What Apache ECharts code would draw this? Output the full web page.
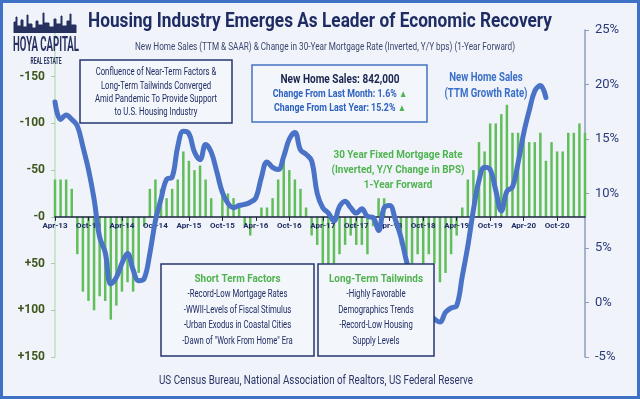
<!DOCTYPE html>
<html>
<head>
<meta charset="utf-8">
<script src="https://cdn.jsdelivr.net/npm/echarts@6/dist/echarts.min.js"></script>
<style>
  html, body { margin: 0; padding: 0; background: #f0f4fa; }
  #chart { width: 640px; height: 399px; }
</style>
</head>
<body>
<div id="chart"></div>
<script>
// monthly categories Apr-13 .. Mar-21
const months = [
  'Apr-13','May-13','Jun-13','Jul-13','Aug-13','Sep-13','Oct-13','Nov-13','Dec-13','Jan-14','Feb-14','Mar-14',
  'Apr-14','May-14','Jun-14','Jul-14','Aug-14','Sep-14','Oct-14','Nov-14','Dec-14','Jan-15','Feb-15','Mar-15',
  'Apr-15','May-15','Jun-15','Jul-15','Aug-15','Sep-15','Oct-15','Nov-15','Dec-15','Jan-16','Feb-16','Mar-16',
  'Apr-16','May-16','Jun-16','Jul-16','Aug-16','Sep-16','Oct-16','Nov-16','Dec-16','Jan-17','Feb-17','Mar-17',
  'Apr-17','May-17','Jun-17','Jul-17','Aug-17','Sep-17','Oct-17','Nov-17','Dec-17','Jan-18','Feb-18','Mar-18',
  'Apr-18','May-18','Jun-18','Jul-18','Aug-18','Sep-18','Oct-18','Nov-18','Dec-18','Jan-19','Feb-19','Mar-19',
  'Apr-19','May-19','Jun-19','Jul-19','Aug-19','Sep-19','Oct-19','Nov-19','Dec-19','Jan-20','Feb-20','Mar-20',
  'Apr-20','May-20','Jun-20','Jul-20','Aug-20','Sep-20','Oct-20','Nov-20','Dec-20','Jan-21','Feb-21','Mar-21'
]

// 30Y mortgage rate, Y/Y change in bps, 1-year forward (axis is inverted: negative plots upward)
const mortgageBps = [
  -40, -40, -40, -30, 40, 80, 90, 100, 85, 90, 110, 95,
  80, 70, 80, 60, 10, -30, -40, -30, -20, -30, -40, -70,
  -60, -50, -55, -40, -20, 0, -30, -25, -20, -10, 10, 20,
  0, -10, -10, -20, -40, -70, -50, -40, -30, -10, 20, 30,
  50, 60, 50, 40, 30, 20, 30, 30, 40, 10, -20, -20,
  0, 10, 30, 40, 50, 40, 50, 40, 50, 70, 60, 40,
  20, -10, -40, -50, -80, -70, -100, -100, -110, -120, -90, -90,
  -90, -80, -80, -90, -60, -80, -70, -70, -90, -90, -100, -90
]

// new home sales, TTM growth rate (%)
const salesGrowth = [
  18.4, 16.8, 17.2, 16.8, 16.2, 14.3, 12.2, 9.5, 6.0, 4.6, 1.7, 2.3,
  3.6, 4.5, 3.0, 2.0, 2.2, 4.5, 7.5, 9.5, 11.3, 11.5, 14.3, 15.7,
  15.5, 13.8, 13.1, 14.5, 13.8, 12.0, 10.1, 9.1, 8.7, 8.9, 9.0, 9.2,
  9.6, 11.5, 12.9, 12.4, 12.2, 13.4, 15.0, 15.6, 14.0, 13.6, 13.0, 10.0,
  8.7, 8.2, 7.5, 8.8, 9.3, 8.7, 8.2, 8.6, 7.9, 7.8, 6.6, 8.7,
  8.9, 7.6, 6.0, 3.8, 2.0, 0.6, -0.4, -1.0, -1.5, -1.8, -0.9, -0.5,
  -0.3, 2.4, 5.2, 8.5, 11.2, 12.4, 12.2, 10.3, 8.4, 10.2, 10.6, 12.8,
  15.5, 17.6, 19.4, 19.9, 18.8
]

const leftTicks = [-150, -100, -50, 0, 50, 100, 150]

const FONT = "Roboto, 'Noto Sans', sans-serif"
const NAVY = '#1f2c63'
const GREEN = '#4fb34f'

// text is squeezed horizontally to look like the condensed face of the original
const measureCtx = document.createElement('canvas').getContext('2d')
function measure (text, size, bold) {
  measureCtx.font = (bold ? 'bold ' : '') + size + 'px ' + FONT
  return measureCtx.measureText(text.replace(/\{\w+\|([^}]*)\}/g, '$1')).width
}
function squeeze (text, size, bold, width) {
  return width / measure(text, size, bold)
}
function label (o) {
  const s = o.scale || squeeze(o.text, o.size, o.bold, o.width)
  return {
    type: 'text', z: 100, x: o.x, y: o.y, scaleX: s,
    style: {
      x: 0, y: 0, text: o.text, align: 'center', verticalAlign: 'middle',
      fontFamily: FONT, fontSize: o.size, fontWeight: o.bold ? 'bold' : 'normal',
      fill: o.color || NAVY, rich: o.rich
    }
  }
}
function box (x, y, w, h, stroke) {
  return {
    type: 'rect', z: 99, shape: { x: x, y: y, width: w, height: h },
    style: { fill: '#f3f6fb', stroke: stroke, lineWidth: 1.5 }
  }
}

const bodyScale = squeeze('Amid Pandemic To Provide Support', 11, false, 122)
const greenScale = squeeze('(Inverted, Y/Y Change in BPS)', 11.5, true, 133)
const headScale = squeeze('Long-Term Tailwinds', 11.5, true, 94)
const blueScale = squeeze('(TTM Growth Rate)', 12.5, true, 83)
const statScale = squeeze('Change From Last Month: 1.6% ▲', 10.5, true, 135)
const tri = { g: { fill: GREEN, fontSize: 10 } }

const chart = echarts.init(document.getElementById('chart'))

// skyline of the logo
const skyline = [[14, 33], [14, 22], [16, 22], [16, 17], [17, 17], [17, 26], [21, 26], [21, 20], [23, 20], [23, 27],
  [27, 27], [27, 15], [28, 15], [28, 24], [32, 24], [32, 28], [36, 28], [36, 21], [38, 21], [38, 25], [43, 25],
  [43, 13], [44, 13], [44, 23], [49, 23], [49, 27], [54, 27], [54, 19], [56, 19], [56, 24], [61, 24], [61, 16],
  [62, 16], [62, 26], [67, 26], [67, 21], [70, 21], [70, 14], [71, 14], [71, 25], [76, 25], [76, 33]]

const option = {
  backgroundColor: '#f0f4fa',
  animation: false,
  grid: { left: 55, right: 55, top: 30, bottom: 42 },
  xAxis: {
    type: 'category',
    data: months,
    boundaryGap: false,
    offset: -140.1,
    z: 2,
    axisLine: { onZero: false, lineStyle: { color: '#1b2240', width: 1.5 } },
    axisTick: { interval: 5, length: 4, lineStyle: { color: '#1b2240' } },
    axisLabel: {
      interval: 5, margin: 5, color: NAVY, fontWeight: 'bold', fontSize: 8, fontFamily: FONT
    },
    splitLine: { show: false }
  },
  yAxis: [
    {
      type: 'value',
      inverse: true,
      min: -200,
      max: 150,
      interval: 50,
      position: 'left',
      axisLine: { show: true, lineStyle: { color: '#bfe2bf', width: 1.5 } },
      axisTick: { show: true, length: 4, customValues: leftTicks, lineStyle: { color: '#a9cfa9' } },
      axisLabel: {
        customValues: leftTicks,
        margin: 10,
        color: '#3f561d',
        fontWeight: 'bold',
        fontSize: 12,
        fontFamily: FONT,
        formatter: function (v) {
          if (v < -150) return ''
          if (v === 0) return '-0'
          return v > 0 ? '+' + v : String(v)
        }
      },
      splitLine: { show: false }
    },
    {
      type: 'value',
      min: -5,
      max: 25,
      interval: 5,
      position: 'right',
      axisLine: { show: true, lineStyle: { color: '#8e9dc2', width: 1.5 } },
      axisTick: { show: true, length: 4, lineStyle: { color: '#8e9dc2' } },
      axisLabel: {
        margin: 10, color: '#2b3a78', fontSize: 13, fontFamily: FONT,
        formatter: '{value}%'
      },
      splitLine: { show: false }
    }
  ],
  series: [
    {
      name: '30 Year Fixed Mortgage Rate',
      type: 'bar',
      yAxisIndex: 0,
      data: mortgageBps,
      barWidth: 2.5,
      itemStyle: { color: '#62be5a' },
      z: 1
    },
    {
      name: 'New Home Sales',
      type: 'line',
      yAxisIndex: 1,
      data: salesGrowth,
      smooth: 0.4,
      showSymbol: false,
      lineStyle: { color: '#4a72c6', width: 5, cap: 'round', join: 'round' },
      z: 3
    }
  ],
  graphic: [
    // frame
    { type: 'rect', z: 200, silent: true, shape: { x: 1.5, y: 1.5, width: 637, height: 396 },
      style: { fill: 'none', stroke: '#3f71c6', lineWidth: 3 } },
    // logo
    { type: 'polyline', z: 100, shape: { points: skyline }, style: { stroke: '#27315f', fill: '#27315f', lineWidth: 1 } },
    label({ x: 46, y: 46, text: 'HOYA CAPITAL', size: 20, bold: true, width: 66, color: '#27315f' }),
    label({ x: 46, y: 62, text: 'REAL ESTATE', size: 9.5, bold: true, width: 31, color: '#27315f' }),
    // titles
    label({ x: 320, y: 22, text: 'Housing Industry Emerges As Leader of Economic Recovery', size: 20, bold: true, width: 464 }),
    label({ x: 325, y: 47, text: 'New Home Sales (TTM & SAAR) & Change in 30-Year Mortgage Rate (Inverted, Y/Y bps) (1-Year Forward)',
      size: 10.5, width: 380, color: '#3b466e' }),
    // top-left note
    box(80, 60, 152, 63, '#26356f'),
    label({ x: 156, y: 72, text: 'Confluence of Near-Term Factors &', size: 11, scale: bodyScale }),
    label({ x: 156, y: 86, text: 'Long-Term Tailwinds Converged', size: 11, scale: bodyScale }),
    label({ x: 156, y: 99, text: 'Amid Pandemic To Provide Support', size: 11, scale: bodyScale }),
    label({ x: 156, y: 112, text: 'to U.S. Housing Industry', size: 11, scale: bodyScale }),
    // stats box
    box(252, 65, 175, 57, '#4472c4'),
    label({ x: 340, y: 80, text: 'New Home Sales: 842,000', size: 12.5, bold: true, width: 119, color: '#1b2550' }),
    label({ x: 340, y: 94, text: 'Change From Last Month: 1.6% {g|▲}', size: 10.5, bold: true, scale: statScale, color: '#2f62bf', rich: tri }),
    label({ x: 340, y: 108, text: 'Change From Last Year: 15.2% {g|▲}', size: 10.5, bold: true, scale: statScale, color: '#2f62bf', rich: tri }),
    // series notes
    label({ x: 486, y: 78, text: 'New Home Sales', size: 12.5, bold: true, scale: blueScale, color: '#3a6fc8' }),
    label({ x: 486, y: 94, text: '(TTM Growth Rate)', size: 12.5, bold: true, scale: blueScale, color: '#3a6fc8' }),
    label({ x: 398, y: 155, text: '30 Year Fixed Mortgage Rate', size: 11.5, bold: true, scale: greenScale, color: GREEN }),
    label({ x: 398, y: 170, text: '(Inverted, Y/Y Change in BPS)', size: 11.5, bold: true, scale: greenScale, color: GREEN }),
    label({ x: 398, y: 185, text: '1-Year Forward', size: 11.5, bold: true, scale: greenScale, color: GREEN }),
    // bottom notes
    box(161, 264, 153, 92, '#26356f'),
    label({ x: 237.5, y: 279, text: 'Short Term Factors', size: 11.5, bold: true, scale: headScale, color: GREEN }),
    label({ x: 237.5, y: 294, text: '-Record-Low Mortgage Rates', size: 11, scale: bodyScale }),
    label({ x: 237.5, y: 310, text: '-WWII-Levels of Fiscal Stimulus', size: 11, scale: bodyScale }),
    label({ x: 237.5, y: 325, text: '-Urban Exodus in Coastal Cities', size: 11, scale: bodyScale }),
    label({ x: 237.5, y: 341, text: '-Dawn of "Work From Home" Era', size: 11, scale: bodyScale }),
    box(318, 264, 116, 92, '#26356f'),
    label({ x: 376, y: 279, text: 'Long-Term Tailwinds', size: 11.5, bold: true, scale: headScale, color: GREEN }),
    label({ x: 376, y: 294, text: '-Highly Favorable', size: 11, scale: bodyScale }),
    label({ x: 376, y: 310, text: 'Demographics Trends', size: 11, scale: bodyScale }),
    label({ x: 376, y: 325, text: '-Record-Low Housing', size: 11, scale: bodyScale }),
    label({ x: 376, y: 341, text: 'Supply Levels', size: 11, scale: bodyScale }),
    // source
    label({ x: 316, y: 381, text: 'US Census Bureau, National Association of Realtors, US Federal Reserve',
      size: 12, width: 314, color: '#2b3566' })
  ]
}

chart.setOption(option)
</script>
</body>
</html>
